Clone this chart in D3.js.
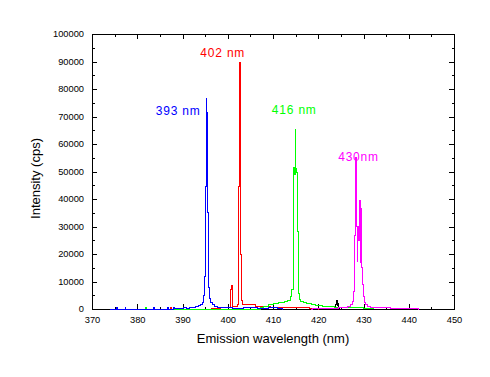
<!DOCTYPE html>
<html>
<head>
<meta charset="utf-8">
<script src="https://cdn.jsdelivr.net/npm/d3@7"></script>
<style>
  body { margin: 0; background: #fff; }
  text { font-family: "Liberation Sans", Arial, sans-serif; }
</style>
</head>
<body>
<div id="container"></div>
<script>
/* DATA: [wavelength (nm), intensity (cps)] */
const black = [[423.6,0],[424.0,1500],[424.15,3000],[424.3,1200],[424.45,2100],[424.6,400],[425,0]];

const red = [[387.4,0],[387.5,400],[387.7,0],[396,0],[397,200],[398,300],[399,400],[400,500],
  [400.6,700],[400.8,7000],[400.9,8700],[401.0,1000],[401.3,800],[402.0,1000],[402.2,1500],
  [402.4,44500],[402.65,89700],[402.85,63500],[402.95,20000],[403.1,3000],[403.3,1800],
  [404.5,1800],[405,1500],[406,1500],[406.3,1000],[409,1000],[410,700],[413,500],[416,400],
  [420,300],[420.2,0]];

const green = [[381.8,0],[382,400],[382.2,0],[407,0],[407.5,500],[408.5,1000],[409.5,1500],
  [410.5,2000],[412,2300],[413,2600],[413.6,3200],[414.0,4500],[414.3,7000],[414.55,51300],
  [414.8,49000],[414.95,65300],[415.1,51000],[415.3,49500],[415.45,28100],[415.7,5800],
  [415.9,3500],[416.3,2700],[417,2200],[418,1900],[419,1600],[420,1400],[422,1000],
  [425,700],[428,500],[432,300],[432.2,0]];

const magenta = [[418.5,0],[419,300],[424,300],[425,400],[426,500],[427,900],[427.4,1800],
  [427.65,2700],[427.9,6300],[428.1,26900],[428.25,27000],[428.4,55000],[428.55,30000],
  [428.7,17200],[428.85,30000],[429.0,25000],[429.2,39600],[429.35,17000],[429.45,36700],
  [429.6,34900],[429.7,15000],[429.85,9000],[430.1,4500],[430.4,2500],[430.7,1500],
  [431,1000],[432,600],[434,400],[438,300],[442,300],[442.2,0]];

const blue = [[374.0,0],[375.3,0],[375.5,600],[375.7,0],[377.2,0],[377.4,500],[377.6,0],
  [383.6,0],[383.8,500],[384,0],[386.5,0],[386.7,400],[386.9,0],[388,0],[388.2,500],
  [388.4,300],[389,200],[390,300],[390.6,600],[391.2,300],[392,500],[392.6,700],[393.2,900],
  [393.8,1200],[394.2,1600],[394.5,2400],[394.8,5000],[395.0,12000],[395.15,44500],
  [395.3,76400],[395.45,71300],[395.6,35000],[395.75,20000],[395.9,8000],[396.1,4000],
  [396.4,2500],[396.8,1500],[397.3,900],[398,700],[399,500],[400,400],[402,300],[405,400],
  [408,300],[410,400],[412,300],[412.2,0]];

const seriesNames = ["black", "red", "green", "magenta", "blue"];
const seriesColors = ["#000000", "#ff0000", "#00ff00", "#ff00ff", "#0000ff"];
const seriesData = [black, red, green, magenta, blue];

const labelTexts = ["393 nm", "402 nm", "416 nm", "430nm"];
const labelWl = [394.0, 398.9, 414.7, 433.4];
const labelVal = [70500, 91500, 71000, 54000];
const labelColors = ["#0000ff", "#ff0000", "#00ff00", "#ff00ff"];
const labelAnchors = ["end", "middle", "middle", "end"];

const xTicks = [370, 380, 390, 400, 410, 420, 430, 440, 450];
const yTicks = [0, 10000, 20000, 30000, 40000, 50000, 60000, 70000, 80000, 90000, 100000];

const margin = {top: 34, right: 36, bottom: 68, left: 92};
const width = 490 - margin.left - margin.right;
const height = 377 - margin.top - margin.bottom;

const svg = d3.select("#container")
    .append("svg")
    .attr("width", 490)
    .attr("height", 377)
    .append("g")
    .attr("transform", "translate(" + margin.left + "," + margin.top + ")");

/* SCALES */
const xScale = d3.scaleLinear().domain([370, 450]).range([0, width]);
const yScale = d3.scaleLinear().domain([0, 100000]).range([height, 0]);

const xMinor = d3.range(375, 450, 10);
const yMinor = d3.range(5000, 100000, 10000);

function styleAxis(g) {
  g.selectAll("path").attr("stroke", "#000").attr("shape-rendering", "crispEdges");
  g.selectAll("line").attr("stroke", "#000").attr("shape-rendering", "crispEdges");
  g.selectAll("text").attr("font-size", "9.3px").attr("fill", "#000")
    .attr("font-family", "'Liberation Sans', Arial, sans-serif");
}

// bottom
svg.append("g").attr("transform", "translate(0," + height + ")")
  .call(d3.axisBottom(xScale).tickValues(xTicks).tickFormat(d3.format("d")).tickSize(-5).tickPadding(7))
  .call(styleAxis);
svg.append("g").attr("transform", "translate(0," + height + ")")
  .call(d3.axisBottom(xScale).tickValues(xMinor).tickFormat("").tickSize(-2.5))
  .call(styleAxis);
// top
svg.append("g")
  .call(d3.axisTop(xScale).tickValues(xTicks).tickFormat("").tickSize(-5))
  .call(styleAxis);
svg.append("g")
  .call(d3.axisTop(xScale).tickValues(xMinor).tickFormat("").tickSize(-2.5))
  .call(styleAxis);
// left
svg.append("g")
  .call(d3.axisLeft(yScale).tickValues(yTicks).tickFormat(d3.format("d")).tickSize(-5).tickPadding(8))
  .call(styleAxis);
svg.append("g")
  .call(d3.axisLeft(yScale).tickValues(yMinor).tickFormat("").tickSize(-2.5))
  .call(styleAxis);
// right
svg.append("g").attr("transform", "translate(" + width + ",0)")
  .call(d3.axisRight(yScale).tickValues(yTicks).tickFormat("").tickSize(-5))
  .call(styleAxis);
svg.append("g").attr("transform", "translate(" + width + ",0)")
  .call(d3.axisRight(yScale).tickValues(yMinor).tickFormat("").tickSize(-2.5))
  .call(styleAxis);

/* LINES */
const line = d3.line()
  .x(d => xScale(d[0]))
  .y(d => yScale(d[1]))
  .curve(d3.curveStep);

svg.append("g")
  .selectAll("path")
  .data(seriesData)
  .enter()
  .append("path")
  .attr("class", (d, i) => "series " + seriesNames[i])
  .attr("d", line)
  .attr("fill", "none")
  .attr("stroke", (d, i) => seriesColors[i])
  .attr("stroke-width", 1)
  .attr("shape-rendering", "crispEdges");

/* ANNOTATIONS */
svg.append("g")
  .selectAll("text")
  .data(labelTexts)
  .enter()
  .append("text")
  .attr("x", (d, i) => xScale(labelWl[i]))
  .attr("y", (d, i) => yScale(labelVal[i]))
  .attr("text-anchor", (d, i) => labelAnchors[i])
  .attr("fill", (d, i) => labelColors[i])
  .style("font-size", "12px")
  .style("letter-spacing", "0.8px")
  .text(d => d);

svg.append("text")
    .attr("text-anchor", "middle")
    .attr("x", width / 2)
    .attr("y", height + 34)
    .style("font-size", "13px")
    .text("Emission wavelength (nm)");
svg.append("text")
    .attr("text-anchor", "middle")
    .attr("transform", "translate(-52," + (height / 2 + 7) + ") rotate(-90)")
    .style("font-size", "13px")
    .text("Intensity (cps)");
</script>
</body>
</html>
